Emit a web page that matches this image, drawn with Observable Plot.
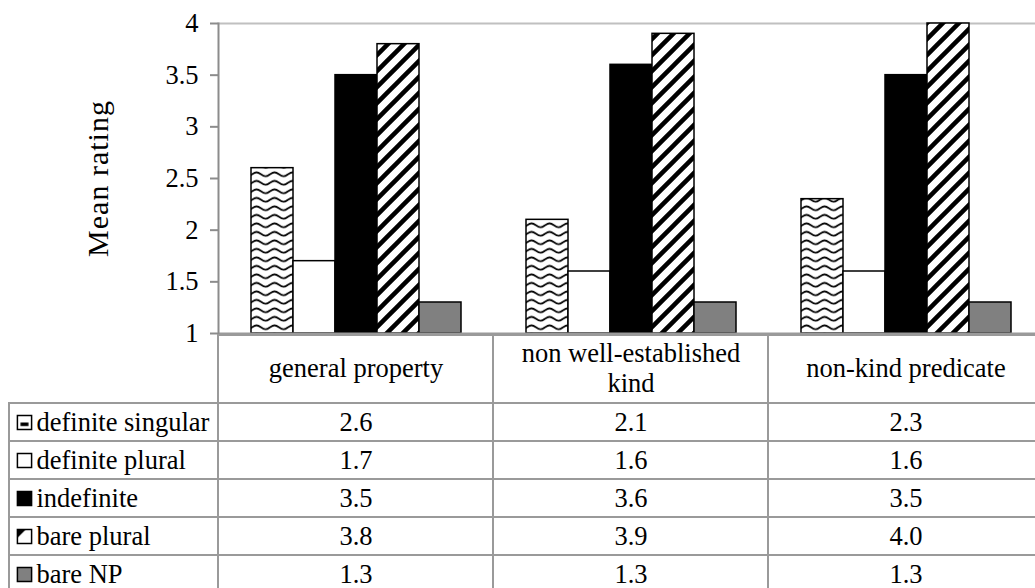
<!DOCTYPE html>
<html>
<head>
<meta charset="utf-8">
<script src="https://cdn.jsdelivr.net/npm/d3@7"></script>
<script src="https://cdn.jsdelivr.net/npm/@observablehq/plot@0.6"></script>
<style>
  html, body { margin: 0; padding: 0; background: white; overflow: hidden; }
  #wrap { width: 1044px; }
  #wrap svg { display: block; max-width: none !important; }
  #wrap svg, #wrap svg text { font-family: "Liberation Serif", serif !important; }
  #wrap svg.chart { overflow: visible; }
</style>
</head>
<body>
<div id="wrap"></div>
<script>
// ---- data ----
const categories = ["general property", "non well-established kind", "non-kind predicate"];
const categoryLabels = ["general property", "non well-established\nkind", "non-kind predicate"];
const series = ["definite singular", "definite plural", "indefinite", "bare plural", "bare NP"];
const definiteSingular = [2.6, 2.1, 2.3];
const definitePlural = [1.7, 1.6, 1.6];
const indefinite = [3.5, 3.6, 3.5];
const barePlural = [3.8, 3.9, 4.0];
const bareNP = [1.3, 1.3, 1.3];
const yTicks = [1, 1.5, 2, 2.5, 3, 3.5, 4];

const seriesValues = [definiteSingular, definitePlural, indefinite, barePlural, bareNP];
const rows = series.flatMap((s, si) =>
  categories.map((c, ci) => ({series: s, category: c, value: seriesValues[si][ci]})));

const barFills = ["url(#wave)", "white", "black", "url(#diag)", "#808080"];
const swatchFills = ["url(#swS)", "white", "black", "url(#swP)", "#808080"];

const baseStyle = {fontFamily: "Liberation Serif", fontSize: "26.5px", color: "black", maxWidth: "none"};

const chart = Plot.plot({
  width: 1044, height: 334,
  marginLeft: 218, marginRight: 1, marginTop: 23, marginBottom: 1,
  style: {...baseStyle, background: "white", overflow: "visible"},
  fx: {domain: categories, padding: 0, axis: null},
  x: {domain: series, paddingInner: 0, paddingOuter: 0.727, axis: null},
  y: {domain: [1, 4]},
  color: {domain: series, range: barFills},
  marks: [
    Plot.ruleY([4], {stroke: "#c0c0c0", strokeWidth: 2}),
    Plot.barY(rows, {fx: "category", x: "series", y1: 1, y2: "value", fill: "series",
                     stroke: "black", strokeWidth: 1.5}),
    Plot.ruleY([1], {stroke: "#9a9a9a", strokeWidth: 2}),
    Plot.frame({anchor: "left", facetAnchor: "left", stroke: "#8c8c8c", strokeWidth: 2}),
    Plot.axisY({ticks: yTicks, tickFormat: d => String(d), tickSize: 8, tickPadding: 12,
                stroke: "#8c8c8c", strokeWidth: 2, fontSize: 26.5,
                label: "Mean rating", labelAnchor: "center", labelOffset: 132, labelArrow: false})
  ]
});
chart.classList.add("chart");
// y-axis title size
d3.select(chart).selectAll("text").filter(function() { return this.textContent === "Mean rating"; })
  .style("font-size", "30px").style("letter-spacing", "1px");

// patterns
const defs = d3.select(chart).insert("defs", ":first-child");
const wave = defs.append("pattern").attr("id", "wave").attr("patternUnits", "userSpaceOnUse")
  .attr("width", 18).attr("height", 8.5);
wave.append("rect").attr("width", 18).attr("height", 8.5).attr("fill", "white");
wave.append("path").attr("d", "M-4.5,6.3 C-1,6.3 1,2.3 4.5,2.3 C8,2.3 10,6.3 13.5,6.3 C17,6.3 19,2.3 22.5,2.3")
  .attr("fill", "none").attr("stroke", "black").attr("stroke-width", 1.8);
const diag = defs.append("pattern").attr("id", "diag").attr("patternUnits", "userSpaceOnUse")
  .attr("width", 16).attr("height", 16);
diag.append("rect").attr("width", 16).attr("height", 16).attr("fill", "white");
diag.append("path").attr("d", "M-4,4 L4,-4 M-4,20 L20,-4 M12,20 L20,12")
  .attr("stroke", "black").attr("stroke-width", 4.5);
const swS = defs.append("pattern").attr("id", "swS").attr("width", 1).attr("height", 1)
  .attr("patternContentUnits", "objectBoundingBox");
swS.append("rect").attr("width", 1).attr("height", 1).attr("fill", "white");
swS.append("rect").attr("x", 0.22).attr("y", 0.5).attr("width", 0.56).attr("height", 0.25).attr("fill", "black");
const swP = defs.append("pattern").attr("id", "swP").attr("width", 1).attr("height", 1)
  .attr("patternContentUnits", "objectBoundingBox");
swP.append("rect").attr("width", 1).attr("height", 1).attr("fill", "white");
swP.append("path").attr("d", "M0,0 L0.6,0 L0,0.6 Z").attr("fill", "black");

const table = Plot.plot({
  width: 1044, height: 259,
  marginLeft: 218, marginRight: 1, marginTop: 68, marginBottom: 0,
  style: {...baseStyle, background: "transparent"},
  x: {domain: categories, padding: 0, axis: null},
  y: {domain: series, padding: 0, axis: null},
  color: {domain: series, range: swatchFills},
  marks: [
    Plot.cell(series, {y: d => d, fill: "white", stroke: "#9a9a9a", strokeWidth: 2, insetLeft: -209}),
    Plot.cell(categories, {x: d => d, fill: "none", stroke: "#9a9a9a", strokeWidth: 2, insetTop: -67}),
    Plot.text(categories, {x: d => d, frameAnchor: "top", dy: -35, lineAnchor: "middle", lineHeight: 1.15,
                           text: (d, i) => categoryLabels[i], fill: "black"}),
    Plot.text(rows, {x: "category", y: "series", text: d => d.value.toFixed(1), fill: "black"}),
    Plot.dot(series, {y: d => d, frameAnchor: "left", dx: -194, symbol: "square", r: 8,
                      fill: d => d, stroke: "black", strokeWidth: 1.5}),
    Plot.text(series, {y: d => d, frameAnchor: "left", dx: -182, textAnchor: "start", fill: "black"})
  ]
});

document.getElementById("wrap").append(chart, table);
</script>
</body>
</html>
